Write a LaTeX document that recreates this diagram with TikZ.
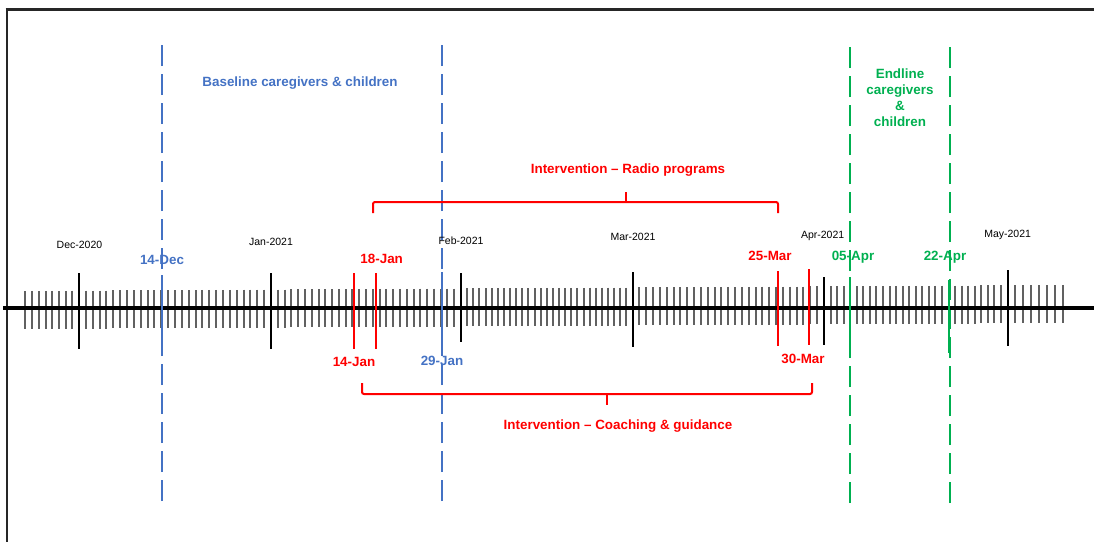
\documentclass[tikz,border=0pt]{standalone}
\usepackage{fontspec}
\setmainfont{Liberation Sans}
\definecolor{tlblue}{HTML}{4472C4}
\definecolor{tlred}{HTML}{FF0000}
\definecolor{tlgreen}{HTML}{00B050}

\begin{document}
\begin{tikzpicture}[x=1pt,y=-1pt,every node/.style={inner sep=0pt,anchor=base},
  monthlbl/.style={font=\fontsize{10.5}{12}\selectfont},
  datelbl/.style={font=\fontsize{13.4}{15.8}\selectfont\bfseries},
  evline/.style={line width=2pt},
  daytick/.style={line width=2pt,black!62},
  longdash/.style={line width=2pt,dash pattern=on 21pt off 8pt}]
\useasboundingbox (0,0) rectangle (1094,542);
% frame
\draw[line width=3pt,black!85] (5.5,9.5) -- (1094,9.5);
\draw[line width=2.5pt,black!85] (7,8) -- (7,542);
% dashed survey lines
\draw[longdash,tlblue] (161.6,501) -- (161.6,43);
\draw[longdash,tlblue] (441.6,501) -- (441.6,43);
\draw[longdash,tlgreen] (850,503) -- (850,45);
\draw[longdash,tlgreen] (949.5,503) -- (949.5,45);
% small ticks
\foreach \a/\b in {79/271,271/461,461/632.5,632.5/824,824/1007.5}
  \foreach \k in {1,...,27}
    \draw[daytick] ({round(\a+(\b-\a)*\k/28)},{291-6*(\a+(\b-\a)*\k/28-25)/1038}) -- ++(0,38);
\foreach \k in {1,...,8}
  \draw[daytick] ({round(79-6.7*\k)},{291-6*(54-6.7*\k)/1038}) -- ++(0,38);
\foreach \k in {1,...,7}
  \draw[daytick] ({1007+8*\k},{285.3-6*\k*8/1038}) -- ++(0,38);
% axis
\draw[line width=3.5pt] (3,308) -- (1094,308);
% month ticks
\foreach \x/\t/\b in {79/273/349,271/273/349,461/273/342,632.5/272/347,824/277/345,1007.5/270/346}
  \draw[line width=2pt] (\x,\t) -- (\x,\b);
% event ticks
\foreach \x/\t/\b/\c in {161.6/275/352/tlblue,354/273/349/tlred,375.5/273/349/tlred,441.6/272/342/tlblue,
  778.4/271/346/tlred,809/269/345/tlred,849.8/277/355/tlgreen,949.3/280/353/tlgreen}
  \draw[evline,\c] (\x,\t) -- (\x,\b);
% months
\node[monthlbl] (dec) at (79.5,248.3) {Dec-2020};
\node[monthlbl] (jan) at (271,245) {Jan-2021};
\node[monthlbl] (feb) at (461,244) {Feb-2021};
\node[monthlbl] (mar) at (633,240.7) {Mar-2021};
\node[monthlbl] (apr) at (822.6,238.5) {Apr-2021};
\node[monthlbl] (may) at (1007.6,237.3) {May-2021};
% dates
\node[datelbl,tlblue] (d14dec) at (162,264.3) {14-Dec};
\node[datelbl,tlred] (d18jan) at (381.7,263.3) {18-Jan};
\node[datelbl,tlred] (d14jan) at (354,366) {14-Jan};
\node[datelbl,tlblue] (d29jan) at (442,365) {29-Jan};
\node[datelbl,tlred] (d25mar) at (770,260.7) {25-Mar};
\node[datelbl,tlred] (d30mar) at (803,363.3) {30-Mar};
\node[datelbl,tlgreen] (d05apr) at (853,260.7) {05-Apr};
\node[datelbl,tlgreen] (d22apr) at (945,260.7) {22-Apr};
% headings
\node[datelbl,tlblue] (baseline) at (300,86.7) {Baseline caregivers \& children};
\node[datelbl,tlgreen,align=center,anchor=north] (endline) at (900,69) {Endline\\caregivers\\\&\\children};
\node[datelbl,tlred] (radio) at (628,173.5) {Intervention – Radio programs};
\node[datelbl,tlred] (coaching) at (618,429.3) {Intervention – Coaching \& guidance};
% braces
\draw[evline,tlred,rounded corners=2pt] (373,213) |- (778,202) -- (778,213);
\draw[evline,tlred] (626,202) -- (626,192);
\draw[evline,tlred,rounded corners=2pt] (362,383) |- (812,394) -- (812,383);
\draw[evline,tlred] (607,394) -- (607,405);
\end{tikzpicture}
\end{document}
